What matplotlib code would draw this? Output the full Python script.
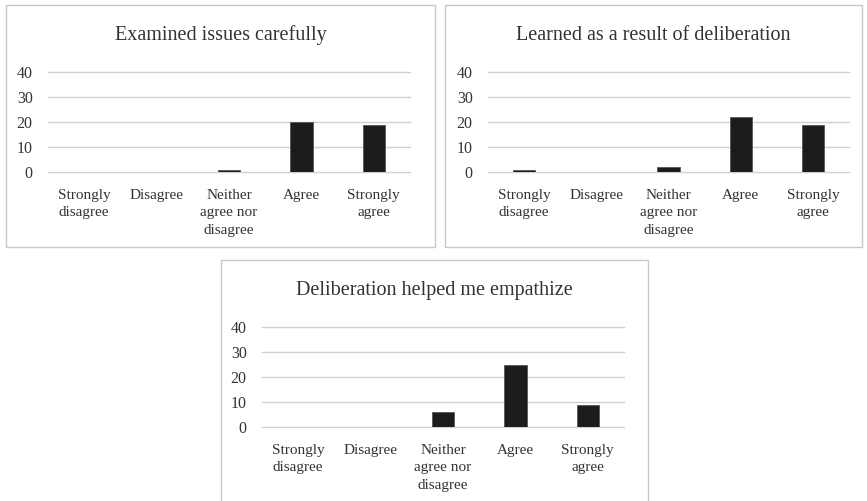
import matplotlib
matplotlib.use("Agg")
import matplotlib.pyplot as plt
from matplotlib.patches import Rectangle

categories = ["Strongly\ndisagree", "Disagree", "Neither\nagree nor\ndisagree", "Agree", "Strongly\nagree"]
titles = ["Examined issues carefully", "Learned as a result of deliberation", "Deliberation helped me empathize"]
examined = [0, 0, 1, 20, 19]
learned = [1, 0, 2, 22, 19]
empathize = [0, 0, 6, 25, 9]
yticks = [0, 10, 20, 30, 40]

W, H = 867, 501
fig = plt.figure(figsize=(W / 100, H / 100), dpi=100)
plt.rcParams['font.family'] = ['Liberation Serif', 'DejaVu Serif']

def fx(p):
    return p / W

def fy(p):
    return 1 - p / H

# panel specs: box (l, t, r, b), plot (l, r, y0px, y40px), title y
panels = [
    (titles[0], examined, (6, 5, 435, 247), (48, 410, 172, 72), 35),
    (titles[1], learned, (445, 5, 862, 247), (488, 849, 172, 72), 35),
    (titles[2], empathize, (221, 260, 648, 520), (262, 624, 427, 327), 290),
]

for title, vals, box, plot, ty in panels:
    bl, bt, br, bb = box
    fig.patches.append(Rectangle((fx(bl), fy(bb)), fx(br - bl), (bb - bt) / H,
                                 transform=fig.transFigure, fill=True, facecolor='white',
                                 edgecolor='#c8c8c8', linewidth=1.0, zorder=0))
    pl, pr, y0, y40 = plot
    ax = fig.add_axes([fx(pl), fy(y0), fx(pr - pl), (y0 - y40) / H])
    ax.set_zorder(1)
    ax.patch.set_visible(False)
    x = list(range(len(categories)))
    ax.bar(x, vals, width=0.31, color='#1c1c1c', edgecolor='#555555', linewidth=0.6, zorder=3)
    ax.set_xlim(-0.5, len(categories) - 0.5)
    ax.set_ylim(0, 40)
    ax.set_yticks(yticks)
    ax.set_yticklabels([str(t) for t in yticks], fontsize=11.5, color='#333333')
    ax.set_xticks(x)
    ax.set_xticklabels(categories, fontsize=11, color='#333333', linespacing=1.45, va='top')
    ax.tick_params(axis='both', length=0)
    ax.tick_params(axis='y', pad=11)
    ax.tick_params(axis='x', pad=12)
    for s in ax.spines.values():
        s.set_visible(False)
    for t in yticks:
        ax.axhline(t, color='#d0d0d0', linewidth=1.0, zorder=1, clip_on=False)
    fig.text(fx((bl + br) / 2), fy(ty), title, ha='center', va='center', fontsize=14.5, color='#333333')

fig.savefig("out.png", dpi=100)
